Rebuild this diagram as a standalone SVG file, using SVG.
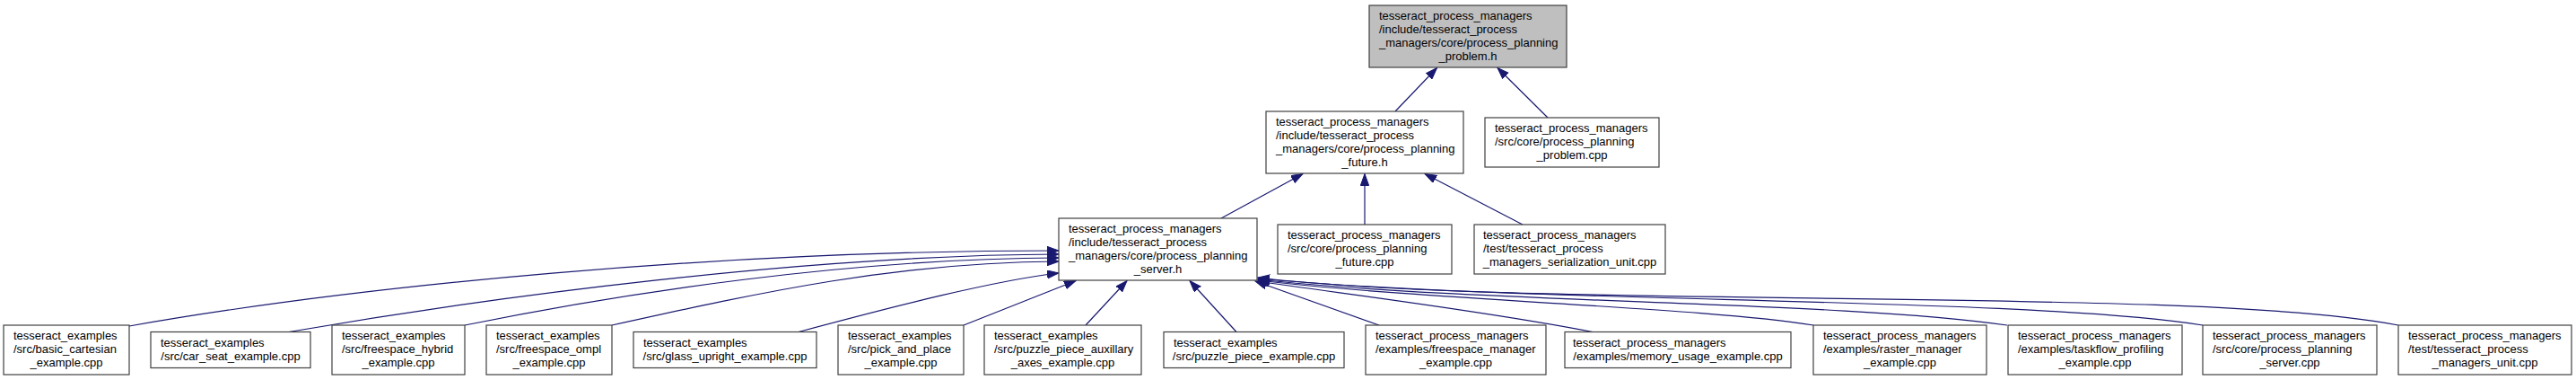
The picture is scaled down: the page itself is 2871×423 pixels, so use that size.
<svg xmlns="http://www.w3.org/2000/svg" width="2871" height="423" viewBox="0 0 2871 423">
<style>
rect.n{fill:#ffffff;stroke:#404040;stroke-width:1.2}
rect.r{fill:#bfbfbf;stroke:#404040;stroke-width:1.2}
text{font-family:"Liberation Sans",Arial,Helvetica,sans-serif;font-size:13px;fill:#000}
text.c{text-anchor:middle}
#edges path{fill:none;stroke:#191970;stroke-width:1.2;marker-end:url(#ah)}
</style>
<defs>
<marker id="ah" markerUnits="userSpaceOnUse" markerWidth="14" markerHeight="10" refX="13" refY="4.65" orient="auto">
<path d="M0,0 L13,4.65 L0,9.3 Z" fill="#191970" stroke="#191970" stroke-width="1"/>
</marker>
</defs>
<rect width="2871" height="423" fill="#ffffff"/>
<g id="edges">
<path d="M1555,124 L1601.5,75.5"/>
<path d="M1725,131 L1669,75.5"/>
<path d="M1361,243 L1452,193.5"/>
<path d="M1521,250 L1521,193.5"/>
<path d="M1697,250 L1588,193.5"/>
<path d="M144,363 C400,318 800,279 1180,279"/>
<path d="M322,369.5 C550,330 900,284 1180,283"/>
<path d="M518,362 C700,325 950,288 1180,287"/>
<path d="M682,362 C850,325 1000,292 1180,291"/>
<path d="M890,369.5 C1000,340 1110,312 1180,304"/>
<path d="M1074,362 L1199,312.5"/>
<path d="M1210,362 L1256,312.5"/>
<path d="M1378,369.5 L1326,312.5"/>
<path d="M1537,362 L1399,313"/>
<path d="M1775,369.5 C1650,345 1480,325 1402,313"/>
<path d="M2021,362 C1900,342 1600,335 1402,312"/>
<path d="M2237,362 C2050,335 1650,338 1402,311"/>
<path d="M2455,362 C2250,330 1700,338 1402,310"/>
<path d="M2673,362 C2450,318 1700,345 1402,309"/>
</g>
<g id="node_root">
<rect class="r" x="1526" y="6" width="220" height="69"/>
<text x="1537" y="21.5">tesseract_process_managers</text>
<text x="1537" y="36.5">/include/tesseract_process</text>
<text x="1537" y="51.5">_managers/core/process_planning</text>
<text class="c" x="1636" y="66.5">_problem.h</text>
</g>
<g id="node_future_h">
<rect class="n" x="1411" y="124" width="220" height="69"/>
<text x="1422" y="139.5">tesseract_process_managers</text>
<text x="1422" y="154.5">/include/tesseract_process</text>
<text x="1422" y="169.5">_managers/core/process_planning</text>
<text class="c" x="1521" y="184.5">_future.h</text>
</g>
<g id="node_problem_cpp">
<rect class="n" x="1655" y="131" width="194" height="55"/>
<text x="1666" y="147">tesseract_process_managers</text>
<text x="1666" y="162">/src/core/process_planning</text>
<text class="c" x="1752" y="177">_problem.cpp</text>
</g>
<g id="node_server_h">
<rect class="n" x="1180" y="243" width="221" height="69"/>
<text x="1191" y="258.5">tesseract_process_managers</text>
<text x="1191" y="273.5">/include/tesseract_process</text>
<text x="1191" y="288.5">_managers/core/process_planning</text>
<text class="c" x="1290.5" y="303.5">_server.h</text>
</g>
<g id="node_future_cpp">
<rect class="n" x="1424" y="250" width="194" height="55"/>
<text x="1435" y="266">tesseract_process_managers</text>
<text x="1435" y="281">/src/core/process_planning</text>
<text class="c" x="1521" y="296">_future.cpp</text>
</g>
<g id="node_serialization">
<rect class="n" x="1643" y="250" width="213" height="55"/>
<text x="1653" y="266">tesseract_process_managers</text>
<text x="1653" y="281">/test/tesseract_process</text>
<text class="c" x="1749.5" y="296">_managers_serialization_unit.cpp</text>
</g>
<g id="node_basic_cartesian">
<rect class="n" x="4" y="362" width="140" height="55"/>
<text x="15" y="378">tesseract_examples</text>
<text x="15" y="393">/src/basic_cartesian</text>
<text class="c" x="74" y="408">_example.cpp</text>
</g>
<g id="node_car_seat">
<rect class="n" x="168" y="369.5" width="178" height="40"/>
<text x="179" y="385.5">tesseract_examples</text>
<text class="c" x="257" y="400.5">/src/car_seat_example.cpp</text>
</g>
<g id="node_freespace_hybrid">
<rect class="n" x="370" y="362" width="148" height="55"/>
<text x="381" y="378">tesseract_examples</text>
<text x="381" y="393">/src/freespace_hybrid</text>
<text class="c" x="444" y="408">_example.cpp</text>
</g>
<g id="node_freespace_ompl">
<rect class="n" x="542" y="362" width="140" height="55"/>
<text x="553" y="378">tesseract_examples</text>
<text x="553" y="393">/src/freespace_ompl</text>
<text class="c" x="612" y="408">_example.cpp</text>
</g>
<g id="node_glass_upright">
<rect class="n" x="706" y="369.5" width="204" height="40"/>
<text x="717" y="385.5">tesseract_examples</text>
<text class="c" x="808" y="400.5">/src/glass_upright_example.cpp</text>
</g>
<g id="node_pick_and_place">
<rect class="n" x="934" y="362" width="140" height="55"/>
<text x="945" y="378">tesseract_examples</text>
<text x="945" y="393">/src/pick_and_place</text>
<text class="c" x="1004" y="408">_example.cpp</text>
</g>
<g id="node_puzzle_aux">
<rect class="n" x="1097" y="362" width="175" height="55"/>
<text x="1108" y="378">tesseract_examples</text>
<text x="1108" y="393">/src/puzzle_piece_auxillary</text>
<text class="c" x="1184.5" y="408">_axes_example.cpp</text>
</g>
<g id="node_puzzle_piece">
<rect class="n" x="1297" y="369.5" width="201" height="40"/>
<text x="1308" y="385.5">tesseract_examples</text>
<text class="c" x="1397.5" y="400.5">/src/puzzle_piece_example.cpp</text>
</g>
<g id="node_freespace_manager">
<rect class="n" x="1522" y="362" width="201" height="55"/>
<text x="1533" y="378">tesseract_process_managers</text>
<text x="1533" y="393">/examples/freespace_manager</text>
<text class="c" x="1622.5" y="408">_example.cpp</text>
</g>
<g id="node_memory_usage">
<rect class="n" x="1744" y="369.5" width="252" height="40"/>
<text x="1753" y="385.5">tesseract_process_managers</text>
<text class="c" x="1870" y="400.5">/examples/memory_usage_example.cpp</text>
</g>
<g id="node_raster_manager">
<rect class="n" x="2021" y="362" width="193" height="55"/>
<text x="2032" y="378">tesseract_process_managers</text>
<text x="2032" y="393">/examples/raster_manager</text>
<text class="c" x="2117.5" y="408">_example.cpp</text>
</g>
<g id="node_taskflow_profiling">
<rect class="n" x="2238" y="362" width="194" height="55"/>
<text x="2249" y="378">tesseract_process_managers</text>
<text x="2249" y="393">/examples/taskflow_profiling</text>
<text class="c" x="2335" y="408">_example.cpp</text>
</g>
<g id="node_server_cpp">
<rect class="n" x="2455" y="362" width="194" height="55"/>
<text x="2466" y="378">tesseract_process_managers</text>
<text x="2466" y="393">/src/core/process_planning</text>
<text class="c" x="2552" y="408">_server.cpp</text>
</g>
<g id="node_unit_cpp">
<rect class="n" x="2673" y="362" width="193" height="55"/>
<text x="2684" y="378">tesseract_process_managers</text>
<text x="2684" y="393">/test/tesseract_process</text>
<text class="c" x="2769.5" y="408">_managers_unit.cpp</text>
</g>
</svg>
